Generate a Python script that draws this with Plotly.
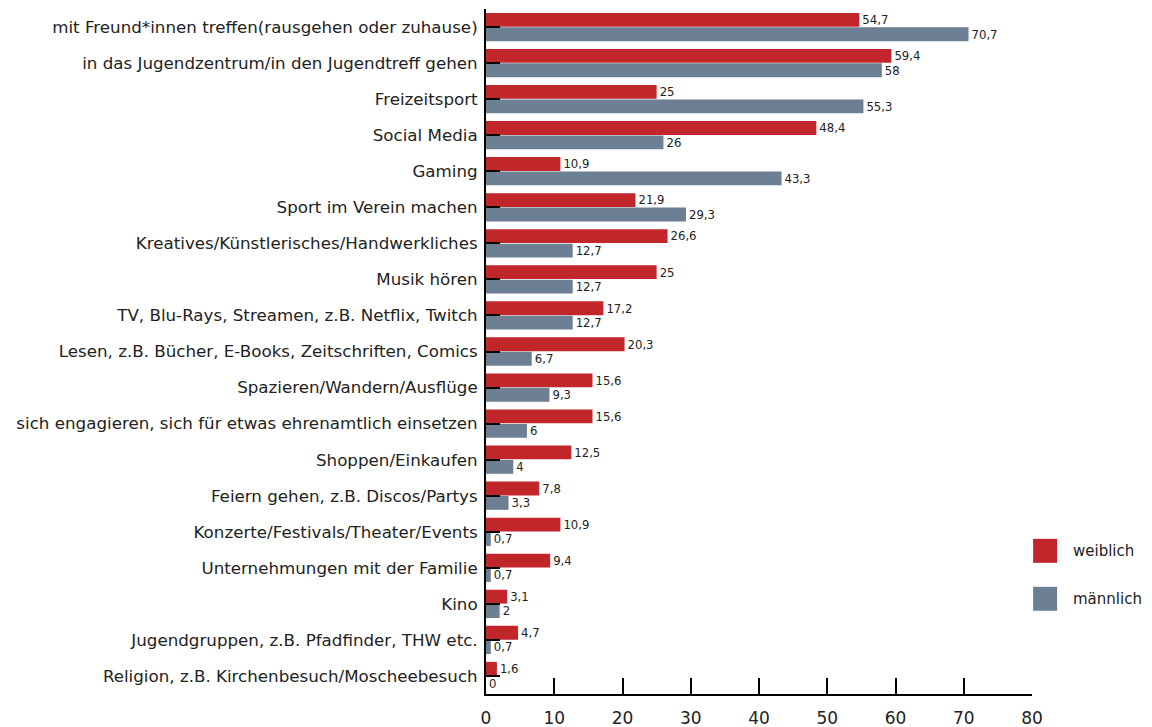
import plotly.graph_objects as go

categories = [
    "mit Freund*innen treffen(rausgehen oder zuhause)",
    "in das Jugendzentrum/in den Jugendtreff gehen",
    "Freizeitsport",
    "Social Media",
    "Gaming",
    "Sport im Verein machen",
    "Kreatives/Künstlerisches/Handwerkliches",
    "Musik hören",
    "TV, Blu-Rays, Streamen, z.B. Netflix, Twitch",
    "Lesen, z.B. Bücher, E-Books, Zeitschriften, Comics",
    "Spazieren/Wandern/Ausflüge",
    "sich engagieren, sich für etwas ehrenamtlich einsetzen",
    "Shoppen/Einkaufen",
    "Feiern gehen, z.B. Discos/Partys",
    "Konzerte/Festivals/Theater/Events",
    "Unternehmungen mit der Familie",
    "Kino",
    "Jugendgruppen, z.B. Pfadfinder, THW etc.",
    "Religion, z.B. Kirchenbesuch/Moscheebesuch",
]
weiblich = [54.7, 59.4, 25, 48.4, 10.9, 21.9, 26.6, 25, 17.2, 20.3, 15.6, 15.6, 12.5, 7.8, 10.9, 9.4, 3.1, 4.7, 1.6]
maennlich = [70.7, 58, 55.3, 26, 43.3, 29.3, 12.7, 12.7, 12.7, 6.7, 9.3, 6, 4, 3.3, 0.7, 0.7, 2, 0.7, 0]
x_ticks = [0, 10, 20, 30, 40, 50, 60, 70, 80]

RED = "#C1262B"
GRAY = "#6D7F92"
FONT = "DejaVu Sans"


def fmt(v):
    s = ("%g" % v)
    return s.replace(".", ",")


fig = go.Figure()
fig.add_trace(go.Bar(
    y=categories, x=weiblich, orientation="h", name="weiblich",
    marker=dict(color=RED, line=dict(width=0)),
    text=[fmt(v) for v in weiblich], textposition="outside",
    textfont=dict(size=13.5, color="#222", family=FONT), cliponaxis=False,
))
fig.add_trace(go.Bar(
    y=categories, x=maennlich, orientation="h", name="männlich",
    marker=dict(color=GRAY, line=dict(width=0)),
    text=[fmt(v) for v in maennlich], textposition="outside",
    textfont=dict(size=13.5, color="#222", family=FONT), cliponaxis=False,
))

fig.update_layout(
    width=1144, height=719,
    margin=dict(l=478, r=120, t=1, b=33),
    paper_bgcolor="white", plot_bgcolor="white",
    barmode="group", bargap=0.2, bargroupgap=0.04,
    showlegend=False,
    font=dict(family=FONT, size=16.7, color="#222"),
    xaxis=dict(
        range=[0, 80], tickvals=x_ticks, ticks="inside", ticklen=16, tickwidth=2,
        tickcolor="black", showline=True, linecolor="black", linewidth=2,
        showgrid=False, zeroline=False, tickfont=dict(size=17, color="#222"),
        ticklabelstandoff=8, fixedrange=True, automargin=False,
    ),
    yaxis=dict(
        autorange="reversed", ticks="inside", ticklen=14, tickwidth=1.5,
        tickcolor="black", showline=True, linecolor="black", linewidth=2,
        showgrid=False, tickfont=dict(size=16.7, color="#222"),
        ticklabelstandoff=3, automargin=False,
    ),
)

# manual legend with large squares
legend_items = [("weiblich", RED, 0.209), ("männlich", GRAY, 0.139)]
for name, col, yc in legend_items:
    fig.add_shape(type="rect", xref="paper", yref="paper",
                  x0=1.002, x1=1.046, y0=yc - 0.0175, y1=yc + 0.0175,
                  fillcolor=col, line=dict(width=0))
    fig.add_annotation(xref="paper", yref="paper", x=1.072, y=yc, text=name,
                       showarrow=False, xanchor="left", yanchor="middle",
                       font=dict(size=15, color="#222", family=FONT))

fig.write_html("out.html")
